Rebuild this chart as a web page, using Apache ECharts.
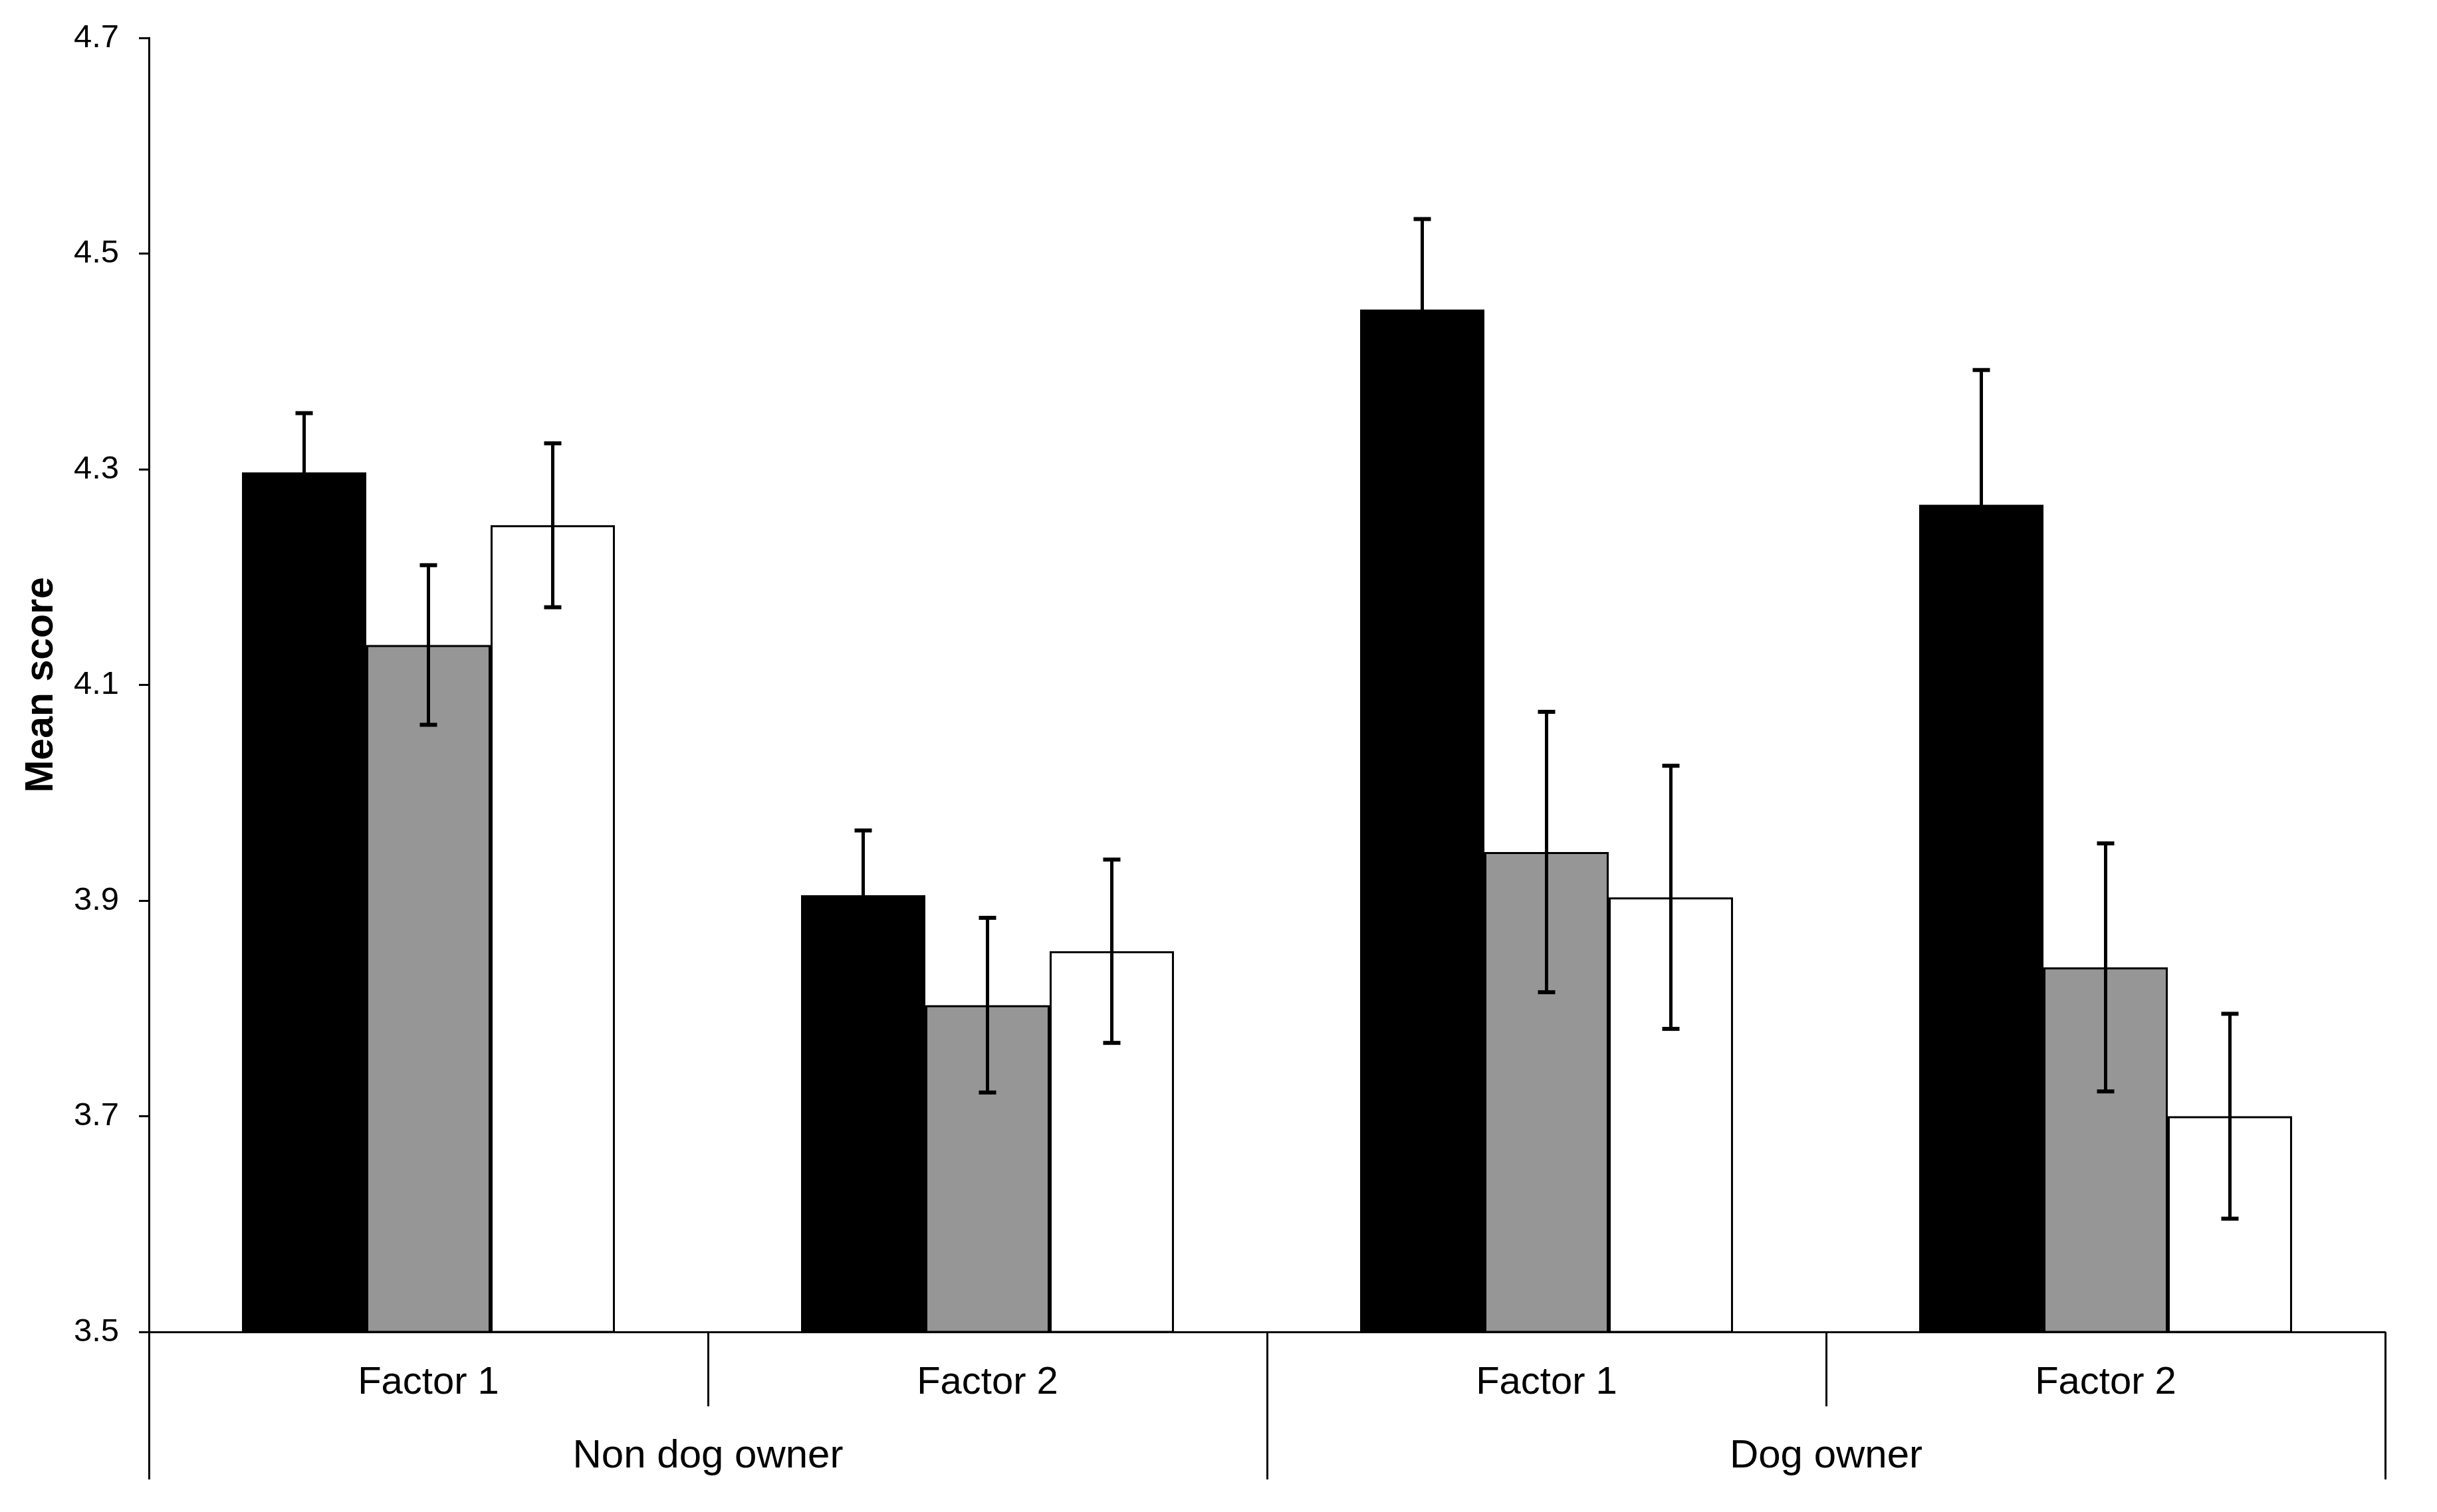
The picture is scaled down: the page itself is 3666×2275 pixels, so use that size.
<!DOCTYPE html>
<html>
<head>
<meta charset="utf-8">
<script src="https://cdn.jsdelivr.net/npm/echarts@6/dist/echarts.min.js"></script>
<style>
html,body{margin:0;padding:0;background:#fff;}
#chart{width:3666px;height:2275px;}
</style>
</head>
<body>
<div id="chart"></div>
<script>
const categories = ['Factor 1', 'Factor 2', 'Factor 1', 'Factor 2'];
const groups = ['Non dog owner', 'Dog owner'];
const yTicks = [3.5, 3.7, 3.9, 4.1, 4.3, 4.5, 4.7];
const seriesNames = ['Series 1', 'Series 2', 'Series 3'];
const blackValues = [4.297, 3.905, 4.448, 4.267];
const blackErrors = [0.055, 0.06, 0.084, 0.125];
const greyValues = [4.137, 3.803, 3.945, 3.838];
const greyErrors = [0.074, 0.081, 0.13, 0.115];
const whiteValues = [4.248, 3.853, 3.903, 3.70];
const whiteErrors = [0.076, 0.085, 0.122, 0.095];

const FONT = 'Liberation Sans, Arial, sans-serif';
const CAT_GAP = 0.333;
const values = [blackValues, greyValues, whiteValues];
const errors = [blackErrors, greyErrors, whiteErrors];
const fills = ['#000000', '#969696', '#ffffff'];

function errRender(k) {
  return function (params, api) {
    const x = api.value(0), y = api.value(1), e = api.value(2);
    const band = api.size([1, 0])[0];
    const barW = band * (1 - CAT_GAP) / 3;
    const c = api.coord([x, y]);
    const cx = c[0] + (k - 1) * barW;
    const top = api.coord([x, y + e])[1];
    const bot = api.coord([x, y - e])[1];
    const hw = 13;
    const st = { stroke: '#000', lineWidth: 5 };
    const cs = { stroke: '#000', lineWidth: 6 };
    return {
      type: 'group',
      children: [
        { type: 'line', shape: { x1: cx, y1: top, x2: cx, y2: bot }, style: st },
        { type: 'line', shape: { x1: cx - hw, y1: top, x2: cx + hw, y2: top }, style: cs },
        { type: 'line', shape: { x1: cx - hw, y1: bot, x2: cx + hw, y2: bot }, style: cs }
      ]
    };
  };
}

const series = [];
for (let k = 0; k < 3; k++) {
  series.push({
    name: seriesNames[k],
    type: 'bar',
    xAxisIndex: 0,
    data: values[k],
    barGap: '0%',
    barCategoryGap: (CAT_GAP * 100) + '%',
    itemStyle: { color: fills[k], borderColor: '#000', borderWidth: 3 },
    silent: true,
    z: 2
  });
}
for (let k = 0; k < 3; k++) {
  series.push({
    name: seriesNames[k] + ' error',
    type: 'custom',
    xAxisIndex: 0,
    renderItem: errRender(k),
    data: categories.map((c, i) => [i, values[k][i], errors[k][i]]),
    encode: { x: 0, y: 1 },
    silent: true,
    z: 5
  });
}

const chart = echarts.init(document.getElementById('chart'), null, { renderer: 'canvas' });
chart.setOption({
  animation: false,
  backgroundColor: '#ffffff',
  grid: { left: 224, right: 78, top: 57, bottom: 271, containLabel: false },
  xAxis: [
    {
      type: 'category',
      data: categories,
      position: 'bottom',
      boundaryGap: true,
      axisLine: { show: true, lineStyle: { color: '#000', width: 3 } },
      axisTick: { show: true, alignWithLabel: false, length: 112, lineStyle: { color: '#000', width: 3 } },
      axisLabel: { show: true, margin: 48, color: '#000', fontSize: 58, fontFamily: FONT },
      splitLine: { show: false }
    },
    {
      type: 'category',
      data: groups,
      position: 'bottom',
      offset: 0,
      boundaryGap: true,
      axisLine: { show: false },
      axisTick: { show: true, alignWithLabel: false, length: 222, lineStyle: { color: '#000', width: 3 } },
      axisLabel: { show: true, margin: 157, color: '#000', fontSize: 60, fontFamily: FONT },
      splitLine: { show: false }
    }
  ],
  yAxis: {
    type: 'value',
    min: 3.5,
    max: 4.7,
    name: 'Mean score',
    nameLocation: 'middle',
    nameRotate: 90,
    nameGap: 132,
    nameTextStyle: { color: '#000', fontSize: 59, fontWeight: 'bold', fontFamily: FONT },
    axisLine: { show: true, lineStyle: { color: '#000', width: 3 } },
    axisTick: { show: true, inside: false, length: 15, customValues: yTicks, lineStyle: { color: '#000', width: 3 } },
    axisLabel: { show: true, margin: 45, customValues: yTicks, color: '#000', fontSize: 49, fontFamily: FONT,
      formatter: v => Number(v).toFixed(1) },
    splitLine: { show: false }
  },
  series: series
});
</script>
</body>
</html>
